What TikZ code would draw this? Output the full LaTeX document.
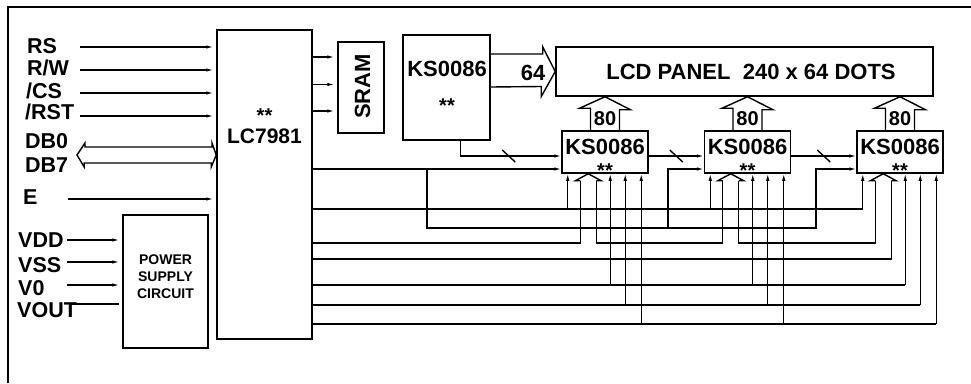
\documentclass[tikz,border=0pt]{standalone}
\usepackage{fontspec}
\setmainfont{Liberation Sans}
\usetikzlibrary{positioning, arrows.meta}

\begin{document}
\begin{tikzpicture}[x=1pt, y=-1pt, >={Latex[length=7pt,width=3.5pt]},
      chip/.style={draw, line width=1.5pt, inner sep=0pt},
      txt/.style={inner sep=0pt, anchor=base, font=\fontsize{#1}{#1}\selectfont\bfseries},
      txt/.default=22,
      sig/.style={inner sep=0pt, anchor=base west, font=\fontsize{21.5}{22}\selectfont\bfseries},
      wire/.style={line width=1.4pt},
      pin/.style={->, line width=1.2pt},
      gap/.style={shorten >=3pt},
      bus/.style={line width=1.4pt, line join=miter}]

  \useasboundingbox (0,0) rectangle (971,383);
  \draw[line width=1.3pt] (8,383) -- (8,7) -- (971,7);

  % blocks
  \node[chip, minimum width=95pt, minimum height=309pt] (lc) at (264.5,184.5) {};
  \node[chip, minimum width=85pt, minimum height=133pt] (psu) at (165.5,281.5) {};
  \node[chip, minimum width=46pt, minimum height=91pt] (sram) at (361,87.5) {};
  \node[chip, minimum width=87pt, minimum height=105pt] (kst) at (446.5,87.5) {};
  \node[chip, minimum width=377pt, minimum height=49pt] (lcd) at (744.5,71.5) {};
  \foreach \k/\x in {k1/605, k2/747.5, k3/900}
    \node[chip, minimum width=86pt, minimum height=42pt] (\k) at (\x,152) {};

  % block texts
  \node[txt=20] (lc-s) at (264.5,122) {**};
  \node[txt=21] (lc-n) at (264.5,143.3) {LC7981};
  \node[txt=14] (psu-a) at (165.5,264.3) {POWER};
  \node[txt=14] (psu-b) at (165.5,281.5) {SUPPLY};
  \node[txt=14] (psu-c) at (165.5,298.5) {CIRCUIT};
  \node[txt, rotate=90] (sram-n) at (370,86.5) {SRAM};
  \node[txt] (kst-n) at (447,76.7) {KS0086};
  \node[txt=20] (kst-s) at (447,112) {**};
  \node[txt] (lcd-n) at (751,79) {LCD PANEL\ \ 240 x 64 DOTS};
  \node[txt] (w64) at (533,80) {64};
  \foreach \k in {k1,k2,k3} {
    \node[txt] (\k-n) at ([yshift=19pt]\k.south) {KS0086};
    \node[txt=20] (\k-s) at ([yshift=-3.5pt]\k.south) {**};
    \node[txt=20] (\k-w) at ([yshift=5pt]\k.north) {80};
  }

  % signal names
  \node[sig] (rs) at (27,53) {RS};
  \node[sig] (rw) at (27,75) {R/W};
  \node[sig] (cs) at (26,98) {/CS};
  \node[sig] (rst) at (25,119) {/RST};
  \node[sig] (db0) at (25,148) {DB0};
  \node[sig] (db7) at (25,172) {DB7};
  \node[sig] (en) at (23,204) {E};
  \node[sig] (vdd) at (18,247) {VDD};
  \node[sig] (vss) at (18,272) {VSS};
  \node[sig] (vz) at (18,295) {V0};
  \node[sig] (vout) at (17,317) {VOUT};

  % inputs of the controller and of the power supply
  \foreach \n/\x/\y in {rs/80/47, rw/80/70, cs/80/93, rst/80/116, en/68/199} {
    \coordinate (\n-w) at (\x,\y);
    \draw[pin, gap] (\n-w) -- (\n-w -| lc.west);
  }
  \foreach \n/\y in {vdd/240, vss/262, vz/285} {
    \coordinate (\n-w) at (67,\y);
    \draw[pin, gap] (\n-w) -- (\n-w -| psu.west);
  }
  \coordinate (vout-w) at (70,304);
  \draw[wire, gap] (vout-w) -- (vout-w -| psu.west);

  \coordinate (db-w) at (77,155);
  \draw[bus] (db-w) -- ++(8,-12) -- ++(0,4) -- ++(127,0) -- ++(0,-4) -- (db-w -| lc.west)
    -- ++(-5,12) -- ++(0,-4) -- ++(-127,0) -- ++(0,4) -- cycle;

  % controller to SRAM
  \foreach \r/\y in {m1/57, m2/84.5, m3/111} {
    \coordinate (\r) at (0,\y);
    \draw[pin, gap] (lc.east |- \r) -- (sram.west |- \r);
  }

  % wide buses to the panel
  \coordinate (b64a) at (0,54);
  \coordinate (b64b) at (0,87);
  \draw[bus] (kst.east |- b64a) -- ++(52,0) -- ++(0,-7) -- (lcd.west) -- ++(-14,25)
    -- ++(0,-10) -- (kst.east |- b64b);
  \foreach \k in {k1,k2,k3}
    \draw[bus] ([xshift=-14.5pt]\k.north) -- ++(0,-22) -- ++(-11,0) -- (\k.north |- lcd.south)
      -- ++(25.5,13) -- ++(-11,0) -- ++(0,22);

  % rows under the drivers
  \foreach \r/\y in {ya/209, yb/243, yc/259, yd/285, ye/305, yf/324, yh/169, yi/156}
    \coordinate (\r) at (0,\y);

  % driver pins
  \foreach \k in {k1,k2,k3} {
    \coordinate (\k-a) at ([xshift=6.5pt]\k.south west);
    \coordinate (\k-d) at ([xshift=49pt]\k.south west);
    \coordinate (\k-e) at ([xshift=64pt]\k.south west);
    \coordinate (\k-f) at ([xshift=80pt]\k.south west);
    \coordinate (\k-t) at ([xshift=27pt]\k.south west);
    \coordinate (\k-l) at ([xshift=19pt,yshift=-7pt]\k.south west);
    \coordinate (\k-r) at ([xshift=35pt,yshift=-7pt]\k.south west);
    \draw[bus] (\k-l) -- ++(-5,0) -- (\k-t) -- ++(13,7) -- ++(-5,0);
  }

  % control lines
  \foreach \r/\p in {ya/a, yd/d, ye/e, yf/f} {
    \draw[wire] (lc.east |- \r) -- (k3-\p |- \r);
    \foreach \k in {k1,k2,k3}
      \draw[pin] (\k-\p |- \r) -- (\k-\p);
  }

  % display data, chained through the drivers
  \draw[bus] (lc.east |- yb) -- (k1-l |- yb) -- (k1-l);
  \draw[bus] (k1-r) -- (k1-r |- yb) -- (k2-l |- yb) -- (k2-l);
  \draw[bus] (k2-r) -- (k2-r |- yb) -- (k3-l |- yb) -- (k3-l);
  \draw[bus] (k3-r) -- (k3-r |- yc) -- (lc.east |- yc);
  \draw[line width=2.6pt] (lc.east |- yb) -- ++(136,0);

  % shift chain
  \coordinate (kst-o) at ([xshift=58pt]kst.south west);
  \draw[pin] (kst-o) -- (kst-o |- yi) -- (k1.west |- yi) coordinate[pos=0.48] (cut1);
  \draw[pin] (k1.east |- yi) -- (k2.west |- yi) coordinate[midway] (cut2);
  \draw[pin] (k2.east |- yi) -- (k3.west |- yi) coordinate[midway] (cut3);
  \foreach \c in {cut1,cut2,cut3}
    \draw[wire] (\c) ++(-6.5,-6) -- ++(13,12);

  % enable lines
  \coordinate (j0) at (427,169);
  \coordinate (j2) at (668,228);
  \coordinate (j3) at (816,228);
  \draw[pin] (lc.east |- yh) -- (k1.west |- yh);
  \draw[pin] (j0) |- (j3) |- (k3.west |- yh);
  \draw[pin] (j2) |- (k2.west |- yh);
\end{tikzpicture}
\end{document}
